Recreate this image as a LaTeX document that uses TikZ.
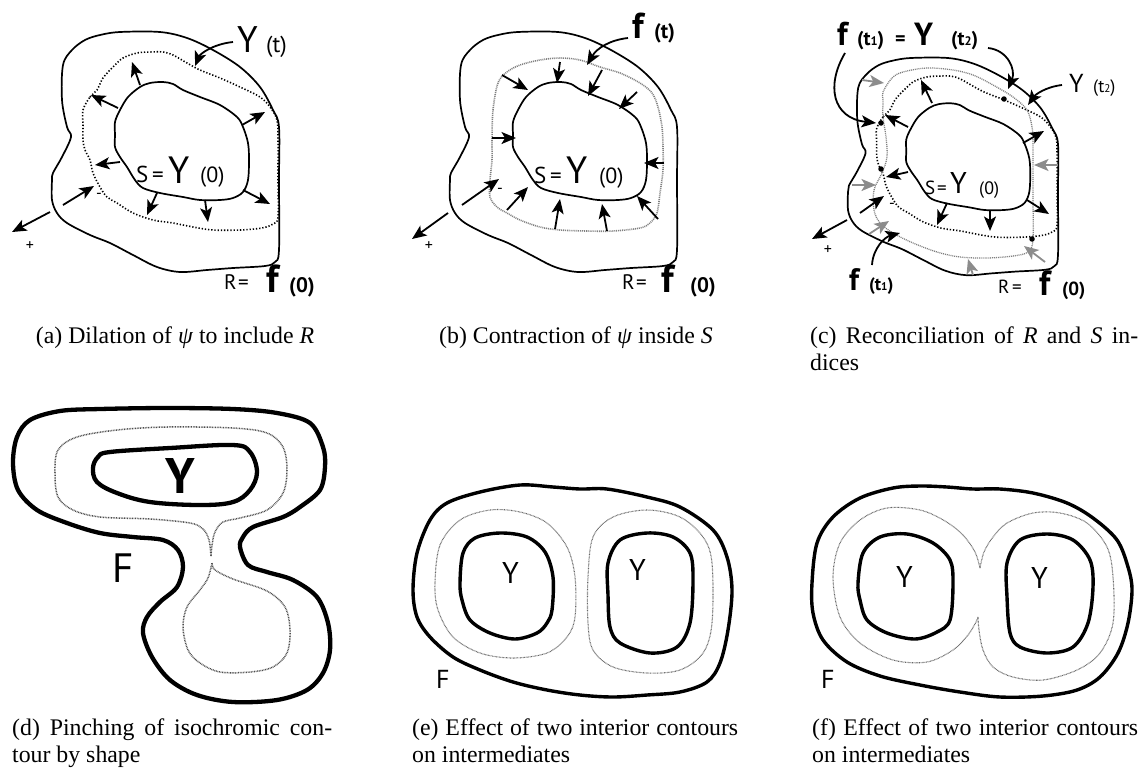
\documentclass[tikz,border=0pt]{standalone}
\usepackage{fontspec}
\setmainfont{Liberation Serif}
\setsansfont{PT Sans}
\usepackage{graphicx}
\usetikzlibrary{arrows.meta}
\newcommand\fs[1]{\fontsize{#1}{#1}\selectfont}
\newcommand\smd[1]{\scalebox{0.62}{#1}}
\def\OuterA{plot[smooth cycle, tension=0.55] coordinates {(63,65) (72,50) (85,40) (100,35) (120,32) (160,32) (187,38) (213,50) (240,67) (260,87) (273,110) (279,127) (279,180) (279,250) (275,262) (265,266) (233,268) (207,270) (180,272) (157,267) (133,255) (110,243) (90,235) (67,223) (57,213) (52,200) (52,180) (53,173) (62,157) (71,137) (67,127) (62,100)}}
\def\InnerA{plot[smooth cycle, tension=0.55] coordinates {(115,122) (120,110) (128,97) (140,87) (150,83) (163,82) (173,84) (183,90) (200,97) (220,105) (237,117) (243,127) (248,143) (249,160) (248,180) (243,192) (233,198) (220,200) (200,200) (183,197) (160,193) (143,188) (135,180) (127,167) (120,157) (115,147) (115,135)}}
\def\DotA{plot[smooth cycle, tension=0.55] coordinates {(83,110) (90,97) (97,90) (103,78) (113,67) (123,58) (137,53) (150,52) (163,52) (173,55) (187,63) (200,70) (220,78) (240,87) (260,97) (270,107) (277,120) (278,140) (278,180) (278,217) (273,224) (262,228) (240,230) (213,230) (193,227) (173,223) (153,220) (133,213) (117,203) (107,197) (100,187) (93,173) (90,160) (85,150) (83,140) (83,125)}}
\tikzset{
  cont/.style={line width=1.7pt, line join=round},
  tcont/.style={line width=4.3pt, line join=round},
  mcont/.style={line width=3.4pt, line join=round},
  bdot/.style={line width=1.6pt, dash pattern=on 1.3pt off 1.9pt},
  gdot/.style={draw=black!50, line width=1.6pt, dash pattern=on 1pt off 0.9pt},
  ddot/.style={draw=black!70, line width=1.5pt, dash pattern=on 0.8pt off 0.8pt},
  edot/.style={draw=black!60, line width=1.1pt, dash pattern=on 0.7pt off 0.7pt},
  arr/.style={line width=1.8pt, -{Stealth[length=14.5pt,width=12pt,inset=3.5pt]}},
  garr/.style={arr, color=black!45},
  lab/.style={inner sep=0pt, anchor=base west, font=\sffamily},
  sgn/.style={inner sep=0pt, font=\sffamily\fs{16}},
  capt/.style={inner sep=0pt, font=\fontsize{23.8}{27.5}\selectfont},
  dotpt/.style={fill=black, circle, inner sep=0pt, minimum size=5.5pt}
}
\begin{document}
\begin{tikzpicture}[x=1pt, y=-1pt]
\useasboundingbox (0,0) rectangle (1147,769);
% ---------------- (a) ----------------
\draw[cont] \OuterA;
\draw[cont] \InnerA;
\draw[bdot] \DotA;
\draw[arr] (140,85) -- (132,62);
\draw[arr] (118,108) -- (91,95);
\draw[arr] (242,125) -- (265,112);
\draw[arr] (120,162) -- (95,165);
\draw[arr] (157,193) -- (147,215);
\draw[arr] (205,200) -- (208,222);
\draw[arr] (243,190) -- (270,204);
\draw[arr] (63,205) -- (94,186);
\draw[arr] (50,212) -- (12,232);
\draw[arr] (233,42) .. controls (213,44) and (200,54) .. (195,66);
\node[sgn] (am) at (99,196) {-};
\node[sgn] (ap) at (30,246) {+};
\node[lab] (aY) at (237,52) {\fs{37}Y};
\node[lab] (at) at (266,52) {\fs{23}(t)};
\node[lab] (aS) at (136,182) {\fs{23}S};
\node[lab] (aeq) at (152,182) {\fs{23}=};
\node[lab] (aY0) at (168,183) {\fs{38}Y};
\node[lab] (a0) at (200,182) {\fs{22}(0)};
\node[lab] (aR) at (224,289) {\fs{21}R};
\node[lab] (aeq2) at (238,289) {\fs{21}=};
\node[lab] (af) at (266,292) {\fs{39}\bfseries f};
\node[lab] (af0) at (289,292) {\fs{21}\bfseries (0)};
\node[capt, anchor=base] (capa) at (175,343) {(a) Dilation of \textit{ψ} to include \textit{R}};
% ---------------- (b) ----------------
\begin{scope}[shift={(398,0)}]
\draw[cont] \OuterA;
\draw[cont] \InnerA;
\end{scope}
\draw[gdot] plot[smooth cycle, tension=0.55] coordinates {(492,140) (493,110) (498,83) (507,72) (520,65) (540,60) (560,58) (580,60) (600,67) (620,73) (640,83) (652,93) (658,107) (662,127) (663,147) (663,170) (660,193) (657,213) (650,223) (640,228) (613,231) (587,231) (560,230) (540,227) (520,220) (507,213) (497,207) (490,197) (490,180) (492,160)};
\draw[arr] (502,75) -- (528,90);
\draw[arr] (560,62) -- (557,83);
\draw[arr] (602,70) -- (588,96);
\draw[arr] (637,92) -- (619,109);
\draw[arr] (492,138) -- (516,138);
\draw[arr] (664,163) -- (644,163);
\draw[arr] (507,210) -- (528,187);
\draw[arr] (555,229) -- (560,199);
\draw[arr] (607,231) -- (602,204);
\draw[arr] (658,219) -- (637,196);
\draw[arr] (462,205) -- (499,179);
\draw[arr] (448,213) -- (412,239);
\draw[arr] (628,38) .. controls (610,40) and (597,48) .. (587,65);
\node[sgn] (bm) at (500,191) {-};
\node[sgn] (bp) at (429,246) {+};
\node[lab] (bf) at (632,38) {\fs{36}\bfseries f};
\node[lab] (bt) at (654,38) {\fs{21}\bfseries (t)};
\node[lab] (bS) at (534,183) {\fs{23}S};
\node[lab] (beq) at (550,183) {\fs{23}=};
\node[lab] (bY0) at (566,183) {\fs{38}Y};
\node[lab] (b0) at (599,183) {\fs{22}(0)};
\node[lab] (bR) at (622,289) {\fs{21}R};
\node[lab] (beq2) at (636,289) {\fs{21}=};
\node[lab] (bf0) at (661,292) {\fs{39}\bfseries f};
\node[lab] (bz) at (690,292) {\fs{21}\bfseries (0)};
\node[capt, anchor=base] (capb) at (576,343) {(b) Contraction of \textit{ψ} inside \textit{S}};
% ---------------- (c) ----------------
\begin{scope}[shift={(799.9,29.04)}, xscale=0.925, yscale=0.905]
\draw[cont] \OuterA;
\draw[cont] \InnerA;
\draw[bdot] \DotA;
\end{scope}
\draw[gdot, line width=1.3pt] plot[smooth cycle, tension=0.55] coordinates {(883,92) (892,78) (903,72) (927,68) (953,70) (973,75) (993,85) (1013,97) (1027,110) (1032,127) (1033,143) (1033,200) (1033,240) (1028,252) (1013,256) (987,258) (960,257) (937,252) (913,243) (893,233) (880,223) (874,210) (874,190) (882,173) (887,157) (886,137) (883,117) (883,100)};
\node[dotpt] (c1) at (881,123) {};
\node[dotpt] (c2) at (881,169) {};
\node[dotpt] (c3) at (1004,99) {};
\node[dotpt] (c4) at (1032,239) {};
\draw[arr] (932,103) -- (921,80);
\draw[arr] (908,127) -- (885,115);
\draw[arr] (1023,143) -- (1044,131);
\draw[arr] (908,172) -- (886,177);
\draw[arr] (947,203) -- (937,225);
\draw[arr] (990,210) -- (990,231);
\draw[arr] (1027,200) -- (1049,214);
\draw[garr] (862,80) -- (884,83);
\draw[garr] (1058,165) -- (1034,165);
\draw[garr] (852,185) -- (876,185);
\draw[garr] (869,234) -- (889,221);
\draw[garr] (973,275) -- (968,259);
\draw[garr] (1045,262) -- (1024,246);
\draw[arr] (860,213) -- (884,196);
\draw[arr] (847,220) -- (812,239);
\draw[arr] (845,53) .. controls (826,85) and (832,118) .. (876,123);
\draw[arr] (988,48) .. controls (1008,50) and (1016,70) .. (1008,89);
\draw[arr] (1062,85) .. controls (1045,87) and (1035,95) .. (1028,105);
\draw[arr] (872,265) .. controls (873,248) and (885,237) .. (900,233);
\node[sgn] (cm) at (892,206) {-};
\node[sgn] (cp) at (828,250) {+};
\node[lab] (cf) at (837,45) {\fs{33}\bfseries f};
\node[lab] (ct1) at (857,45) {\fs{20}\bfseries (t\smd{1})};
\node[lab] (ceq) at (895,45) {\fs{20}\bfseries =};
\node[lab] (cY) at (914,45) {\fs{32}\bfseries Y};
\node[lab] (ct2) at (951,45) {\fs{20}\bfseries (t\smd{2})};
\node[lab] (cY2) at (1069,92) {\fs{26}Y};
\node[lab] (ct22) at (1093,92) {\fs{18}(t\smd{2})};
\node[lab] (cS) at (925,194) {\fs{19}S};
\node[lab] (ceq3) at (937,194) {\fs{19}=};
\node[lab] (cY0) at (950,193) {\fs{30}Y};
\node[lab] (c0) at (979,194) {\fs{18}(0)};
\node[lab] (cR) at (998,293) {\fs{19}R};
\node[lab] (ceq2) at (1012,293) {\fs{19}=};
\node[lab] (cf0) at (1039,295) {\fs{35}\bfseries f};
\node[lab] (cz) at (1062,295) {\fs{19}\bfseries (0)};
\node[lab] (cfb) at (849,290) {\fs{31}\bfseries f};
\node[lab] (ct1b) at (869,290) {\fs{18}\bfseries (t\smd{1})};
\node[capt, anchor=base west] (capc1) at (810,343) {\makebox[328pt][s]{(c) Reconciliation of \textit{R} and \textit{S} in-}};
\node[capt, anchor=base west] (capc2) at (810,370) {dices};
% ---------------- (d) ----------------
\draw[tcont] plot[smooth cycle, tension=0.55] coordinates {(13,463) (17,437) (30,420) (60,411) (100,409) (167,408) (233,409) (277,413) (310,423) (323,447) (325,467) (320,490) (300,507) (283,517) (253,527) (243,537) (240,547) (248,565) (267,572) (293,580) (317,597) (328,623) (330,650) (323,673) (307,690) (277,700) (233,702) (197,695) (170,680) (152,657) (143,633) (147,617) (160,602) (177,587) (183,567) (178,550) (163,540) (133,537) (100,533) (67,523) (37,510) (18,490)};
\draw[tcont] plot[smooth cycle, tension=0.6] coordinates {(93,468) (98,457) (110,452) (170,448) (233,445) (250,452) (257,472) (250,490) (233,502) (200,505) (150,502) (117,493) (97,482)};
\draw[ddot] plot[smooth, tension=0.55] coordinates {(211,556) (209,540) (203,529) (190,523) (150,519) (100,517) (73,510) (58,497) (55,473) (58,450) (77,437) (117,430) (167,427) (233,428) (267,433) (283,447) (287,470) (283,493) (267,510) (240,518) (223,522) (215,532) (212,545) (211,556)};
\draw[ddot] plot[smooth, tension=0.55] coordinates {(212,563) (215,570) (233,579) (267,591) (285,607) (290,630) (287,653) (273,667) (250,672) (220,672) (200,663) (188,650) (183,627) (187,607) (200,590) (208,578) (212,563)};
\node[lab] (dY) at (165,493) {\fs{50}\bfseries Y};
\node[lab] (dF) at (112,582) {\fs{41}F};
\node[capt, anchor=base west] (capd1) at (12,735) {\makebox[320pt][s]{(d) Pinching of isochromic con-}};
\node[capt, anchor=base west] (capd2) at (12,762) {tour by shape};
% ---------------- (e) ----------------
\draw[mcont] plot[smooth cycle, tension=0.55] coordinates {(413,590) (417,553) (430,520) (447,503) (480,492) (520,485) (553,487) (580,489) (607,489) (647,497) (680,507) (713,530) (727,557) (732,590) (728,630) (720,663) (707,682) (680,692) (647,695) (613,697) (580,695) (547,690) (513,682) (480,670) (453,657) (430,637) (417,617)};
\draw[mcont] plot[smooth cycle, tension=0.55] coordinates {(460,583) (463,553) (475,538) (500,533) (527,537) (545,552) (553,577) (552,610) (547,623) (537,633) (515,639) (490,633) (470,620) (462,600)};
\draw[mcont] plot[smooth cycle, tension=0.55] coordinates {(608,563) (620,540) (647,533) (673,537) (690,553) (693,580) (690,623) (677,647) (650,653) (620,643) (610,627) (608,595)};
\draw[edot] plot[smooth cycle, tension=0.55] coordinates {(435,583) (440,545) (460,520) (490,510) (520,512) (547,523) (567,547) (575,577) (575,617) (567,637) (547,653) (513,658) (480,653) (453,637) (438,610)};
\draw[edot] plot[smooth cycle, tension=0.55] coordinates {(588,577) (593,537) (613,517) (647,510) (680,517) (703,537) (712,563) (712,623) (703,653) (680,670) (647,673) (613,667) (593,650) (588,623)};
\node[lab] (eY1) at (502,583) {\fs{30}Y};
\node[lab] (eY2) at (629,580) {\fs{30}Y};
\node[lab] (eF) at (436,688) {\fs{26}F};
\node[capt, anchor=base west] (cape1) at (412,735) {\makebox[326pt][s]{(e) Effect of two interior contours}};
\node[capt, anchor=base west] (cape2) at (412,762) {on intermediates};
% ---------------- (f) ----------------
\draw[mcont] plot[smooth cycle, tension=0.55] coordinates {(812,583) (817,543) (833,517) (860,498) (893,488) (920,486) (947,487) (973,489) (1000,489) (1033,493) (1067,503) (1093,518) (1117,540) (1128,567) (1132,590) (1128,623) (1118,653) (1100,677) (1077,690) (1043,696) (1000,697) (960,692) (920,685) (880,676) (847,662) (823,640) (813,613)};
\draw[mcont] plot[smooth cycle, tension=0.55] coordinates {(858,583) (863,553) (880,537) (907,534) (933,543) (950,560) (953,583) (950,620) (937,632) (915,639) (887,633) (867,620) (860,600)};
\draw[mcont] plot[smooth cycle, tension=0.55] coordinates {(1007,563) (1020,540) (1047,534) (1073,540) (1090,560) (1093,587) (1088,623) (1073,647) (1047,653) (1020,647) (1010,633) (1007,597)};
\draw[edot] plot[smooth, tension=0.55] coordinates {(980,568) (975,552) (963,535) (945,521) (920,510) (887,508) (860,520) (840,543) (833,577) (840,617) (860,643) (893,660) (927,662) (953,650) (968,635) (976,622) (978,617)};
\draw[edot] plot[smooth, tension=0.55] coordinates {(980,568) (984,552) (993,537) (1007,523) (1033,513) (1060,513) (1087,523) (1107,547) (1113,577) (1113,623) (1100,653) (1077,670) (1043,680) (1013,677) (993,667) (983,650) (979,630) (978,617)};
\node[lab] (fY1) at (896,587) {\fs{30}Y};
\node[lab] (fY2) at (1031,588) {\fs{30}Y};
\node[lab] (fF) at (821,688) {\fs{26}F};
\node[capt, anchor=base west] (capf1) at (812,735) {\makebox[326pt][s]{(f) Effect of two interior contours}};
\node[capt, anchor=base west] (capf2) at (812,762) {on intermediates};
\end{tikzpicture}
\end{document}
